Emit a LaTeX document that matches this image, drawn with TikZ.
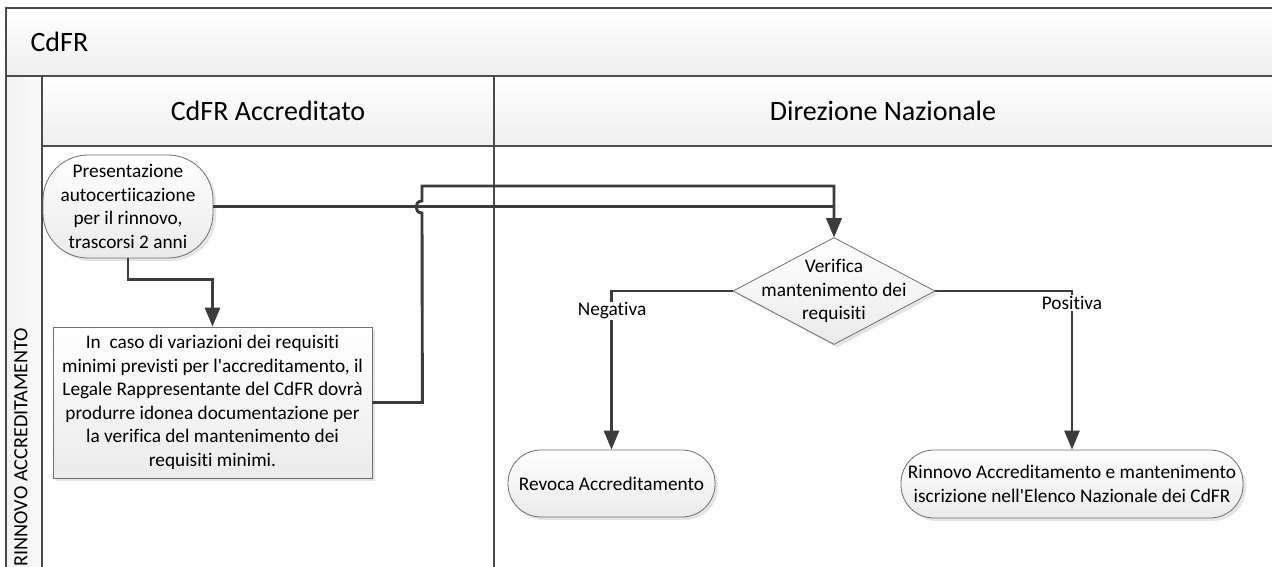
\documentclass[tikz,border=0pt]{standalone}
\usepackage{fontspec}
\setmainfont{Carlito}[Ligatures={NoCommon}]
\usetikzlibrary{shapes.geometric,arrows.meta,shadows}
\definecolor{lanecol}{HTML}{4A4A4A}
\definecolor{conncol}{HTML}{3C3C3C}
\definecolor{nodeline}{HTML}{6E6E6E}
\begin{document}
\begin{tikzpicture}[x=1pt,y=-1pt,
  lane/.style={draw=lanecol, line width=1.4pt},
  band/.style={lane, top color=white, bottom color=gray!13},
  conn/.style={draw=conncol, line width=2.9pt, -{Triangle[length=19pt,width=15pt]}},
  txt/.style={font=\fontsize{19.3}{23.5}\selectfont, align=center, text=black},
  hdr/.style={font=\fontsize{28}{32}\selectfont, text=black},
  shp/.style={txt, draw=nodeline, line width=0.8pt, top color=white, bottom color=gray!16,
    drop shadow={shadow xshift=3pt, shadow yshift=-3pt, fill=gray!60, opacity=0.35}, inner sep=0pt},
  term/.style={shp, rounded corners=#1},
  procbox/.style={shp},
  decision/.style={shp, diamond},
  lbl/.style={txt, fill=white, inner sep=1pt}
]
\useasboundingbox (0,0) rectangle (1272,566);
\clip (0,0) rectangle (1272,566);
% pool and lanes
\path[band] (6,8) rectangle (1300,76);
\path[lane, left color=gray!10, right color=gray!4] (6,76) rectangle (42,600);
\path[band] (42,76) rectangle (494,146);
\path[band] (494,76) rectangle (1300,146);
\draw[lane] (494,146) -- (494,600);
\node[hdr, anchor=west] (title) at (27,42) {CdFR};
\node[hdr] (h1) at (268,111) {CdFR Accreditato};
\node[hdr] (h2) at (883,111) {Direzione Nazionale};
\node[rotate=90, font=\fontsize{20.2}{24}\selectfont] (lanelbl) at (21,447) {RINNOVO ACCREDITAMENTO};
% nodes
\node[term=45pt, minimum width=170pt, minimum height=103pt] (start) at (128,206.5)
  {Presentazione\\autocertiicazione\\per il rinnovo,\\trascorsi 2 anni};
\node[procbox, minimum width=319pt, minimum height=151pt] (box) at (212.5,402.5)
  {In\ \ caso di variazioni dei requisiti\\minimi previsti per l\textquotesingle accreditamento, il\\Legale Rappresentante del CdFR dovrà\\produrre idonea documentazione per\\la verifica del mantenimento dei\\requisiti minimi.};
\node[decision, minimum width=202pt, minimum height=107pt] (dia) at (834,291) {};
\node[txt] (diatext) at (dia.center) {Verifica\\mantenimento dei\\requisiti};
\node[term=33pt, minimum width=207pt, minimum height=67pt] (rev) at (611.5,483.5) {Revoca Accreditamento};
\node[term=33pt, minimum width=342pt, minimum height=68pt] (rin) at (1072,484)
  {Rinnovo Accreditamento e mantenimento\\iscrizione nell\textquotesingle Elenco Nazionale dei CdFR};
% connectors
\draw[conn] (start.south) -- ++(0,21) -| (box.north);
\draw[conn] (start.east) -| (dia.north);
\draw[conn] (box.east) -- ++(50,0) -- (422,213)
  .. controls (414,213) and (414,201) .. (422,201) -- (422,186) -| (dia.north);
\draw[conn] (dia.west) -| (rev.north);
\draw[conn] (dia.east) -| (rin.north);
\node[lbl] (neg) at (612,311) {Negativa};
\node[lbl] (pos) at (1072,303) {Positiva};
\end{tikzpicture}
\end{document}
